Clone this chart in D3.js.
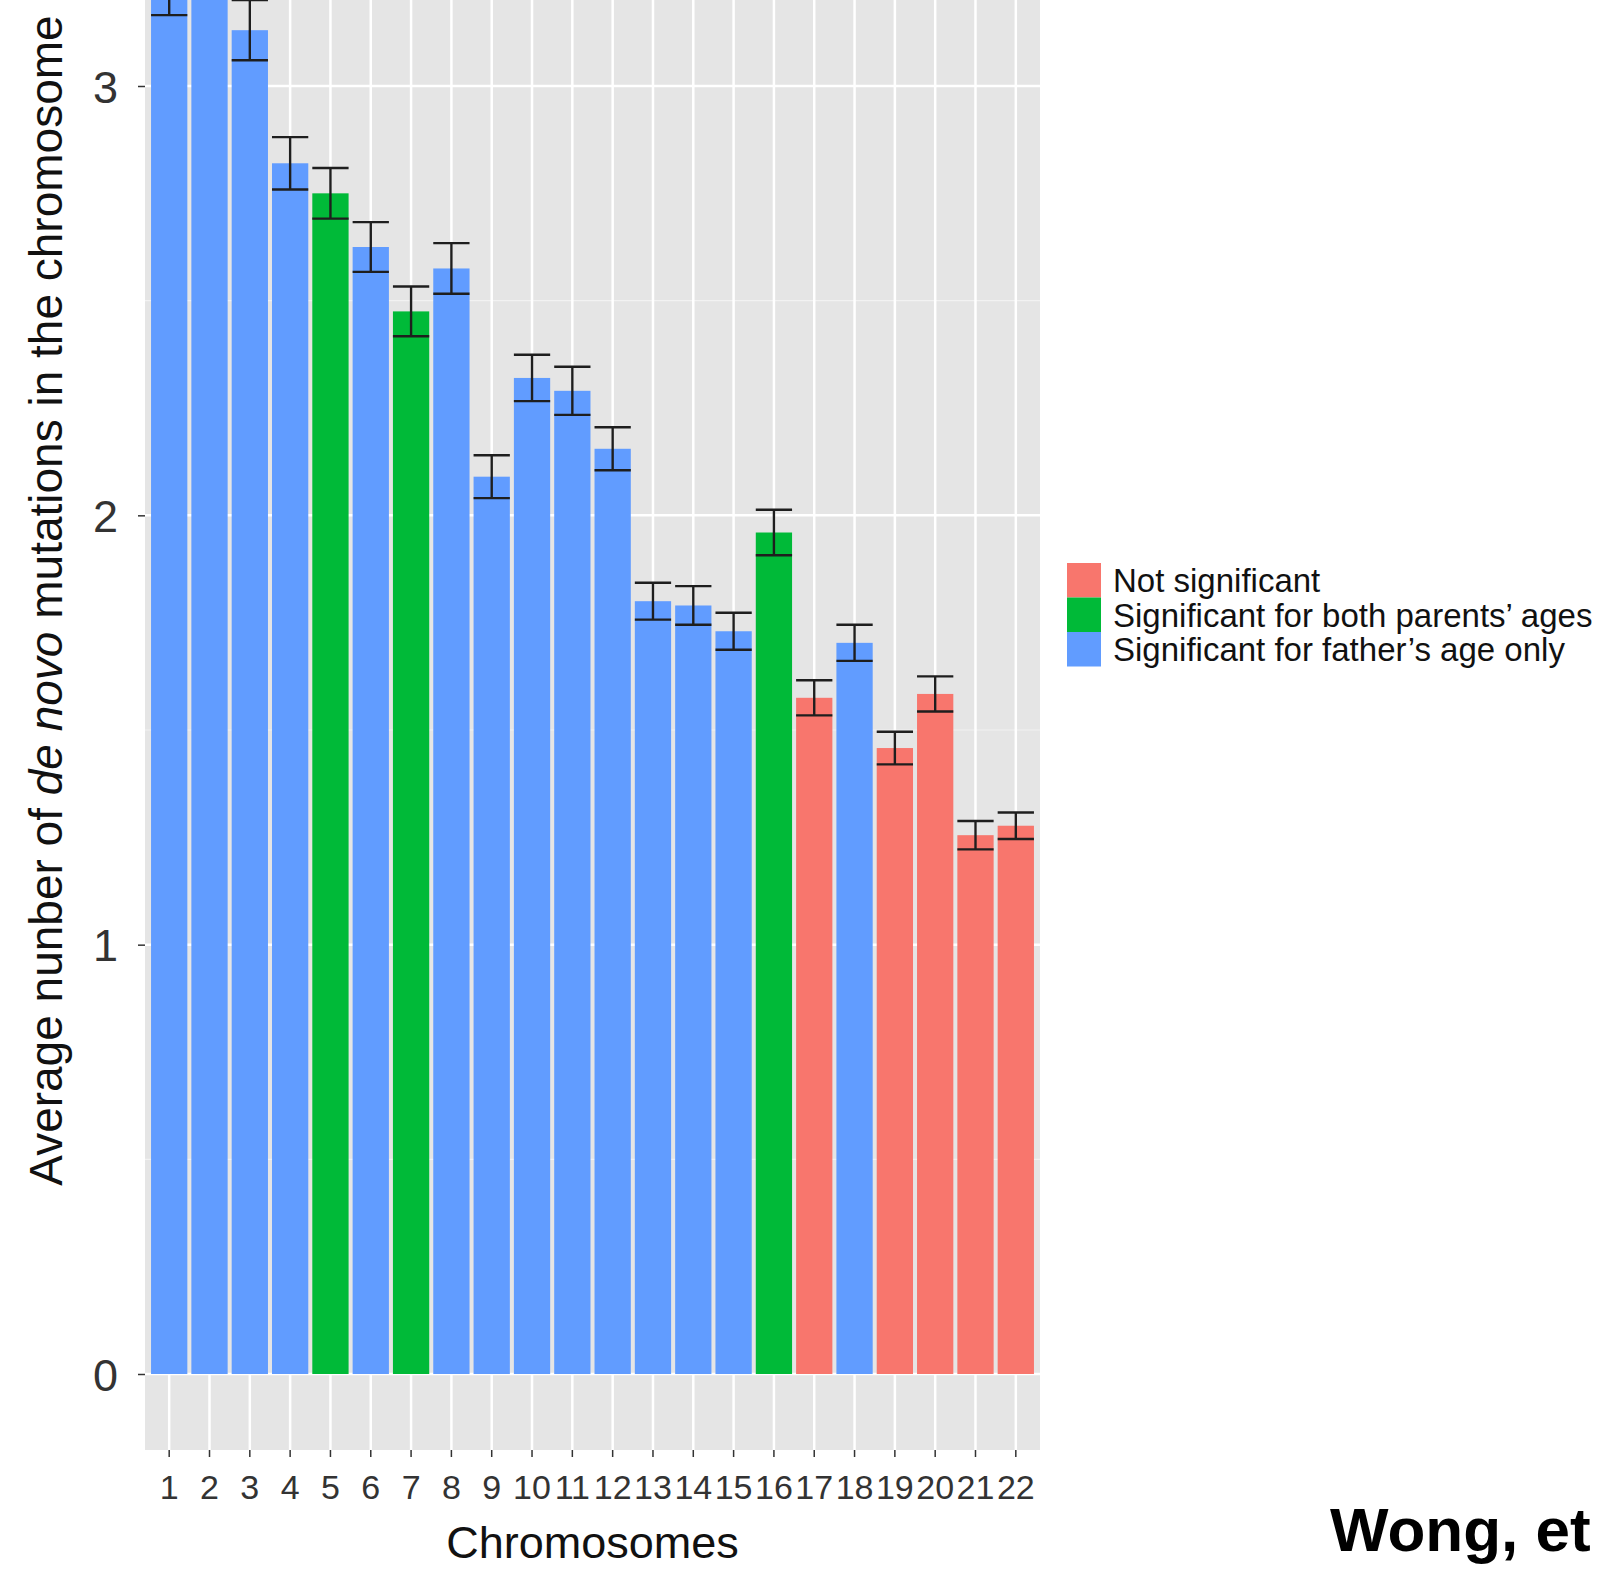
<!DOCTYPE html>
<html>
<head>
  <meta charset="UTF-8">
  <title>De novo mutations per chromosome</title>
  <style>
    body { margin: 0; background: white; }
    svg { display: block; font-family: 'Liberation Sans', Arial, sans-serif; }
  </style>
</head>
<body>
  <svg width="1613" height="1570"></svg>

  <script src="https://d3js.org/d3.v7.min.js"></script>
  <script>
    // data
    let chromosomes = ["1","2","3","4","5","6","7","8","9","10","11","12","13","14","15","16","17","18","19","20","21","22"];
    let means = [3.23, 3.36, 3.13, 2.82, 2.75, 2.625, 2.475, 2.575, 2.09, 2.32, 2.29, 2.155, 1.80, 1.79, 1.73, 1.96, 1.575, 1.703, 1.458, 1.584, 1.255, 1.277];
    let errors = [0.065, 0.07, 0.07, 0.061, 0.059, 0.058, 0.058, 0.059, 0.05, 0.054, 0.056, 0.05, 0.043, 0.045, 0.043, 0.053, 0.041, 0.042, 0.038, 0.041, 0.033, 0.031];
    let groups = ["F","F","F","F","B","F","B","F","F","F","F","F","F","F","F","B","N","F","N","N","N","N"];
    let groupKeys = ["N", "B", "F"];
    let groupLabels = ["Not significant", "Significant for both parents\u2019 ages", "Significant for father\u2019s age only"];
    let groupColors = ["#F8766D", "#00BA38", "#619CFF"];
    let yTicks = [0, 1, 2, 3];
    let yMinor = [0.5, 1.5, 2.5, 3.5];

    let svg = d3.select("svg");

    let x = d3.scaleBand().domain(chromosomes).range([145, 1040]).paddingInner(0.1).paddingOuter(0.15);
    let y = d3.scaleLinear().domain([0, 3]).range([1374, 86]);
    let color = d3.scaleOrdinal().domain(groupKeys).range(groupColors);

    let panelTop = y(3.78), panelBottom = y(-0.177);

    // panel background
    svg.append("rect")
      .attr("x", 145).attr("y", panelTop)
      .attr("width", 1040 - 145).attr("height", panelBottom - panelTop)
      .attr("fill", "#E5E5E5");

    // grid lines
    svg.append("g").selectAll("line").data(yMinor).enter().append("line")
      .attr("x1", 145).attr("x2", 1040)
      .attr("y1", d => y(d)).attr("y2", d => y(d))
      .attr("stroke", "#F2F2F2").attr("stroke-width", 1.2);
    svg.append("g").selectAll("line").data(yTicks).enter().append("line")
      .attr("x1", 145).attr("x2", 1040)
      .attr("y1", d => y(d)).attr("y2", d => y(d))
      .attr("stroke", "white").attr("stroke-width", 2.5);
    svg.append("g").selectAll("line").data(chromosomes).enter().append("line")
      .attr("x1", d => x(d) + x.bandwidth() / 2).attr("x2", d => x(d) + x.bandwidth() / 2)
      .attr("y1", panelTop).attr("y2", panelBottom)
      .attr("stroke", "white").attr("stroke-width", 2.5);

    // bars
    svg.append("g").selectAll("rect").data(chromosomes).enter().append("rect")
      .attr("x", d => x(d))
      .attr("width", x.bandwidth())
      .attr("y", (d, i) => y(means[i]))
      .attr("height", (d, i) => y(0) - y(means[i]))
      .attr("fill", (d, i) => color(groups[i]));

    // error bars
    let eb = svg.append("g").attr("stroke", "#1e1e1e").attr("stroke-width", 2.4)
      .selectAll("g").data(chromosomes).enter().append("g");
    eb.append("line")
      .attr("x1", d => x(d) + x.bandwidth() / 2).attr("x2", d => x(d) + x.bandwidth() / 2)
      .attr("y1", (d, i) => y(means[i] + errors[i])).attr("y2", (d, i) => y(means[i] - errors[i]));
    eb.append("line")
      .attr("x1", d => x(d)).attr("x2", d => x(d) + x.bandwidth())
      .attr("y1", (d, i) => y(means[i] + errors[i])).attr("y2", (d, i) => y(means[i] + errors[i]));
    eb.append("line")
      .attr("x1", d => x(d)).attr("x2", d => x(d) + x.bandwidth())
      .attr("y1", (d, i) => y(means[i] - errors[i])).attr("y2", (d, i) => y(means[i] - errors[i]));

    // y axis
    let yAxis = svg.append("g")
      .attr("transform", "translate(145,0)")
      .call(d3.axisLeft(y).tickValues(yTicks).tickSize(7).tickPadding(20).tickFormat(d3.format("d")));
    yAxis.select(".domain").remove();
    yAxis.selectAll("line").attr("stroke", "#333").attr("stroke-width", 1.5);
    yAxis.selectAll("text").attr("font-size", 45).attr("fill", "#333").attr("dy", "0.36em");

    // x axis
    let xAxis = svg.append("g")
      .attr("transform", "translate(0," + panelBottom + ")")
      .call(d3.axisBottom(x).tickSize(7).tickPadding(18));
    xAxis.select(".domain").remove();
    xAxis.selectAll("line").attr("stroke", "#333").attr("stroke-width", 1.5);
    xAxis.selectAll("text").attr("font-size", 34).attr("fill", "#333");

    // axis titles
    svg.append("text")
      .attr("x", (145 + 1040) / 2).attr("y", 1558)
      .attr("text-anchor", "middle").attr("font-size", 45).attr("fill", "#111")
      .text("Chromosomes");

    let yt = svg.append("text")
      .attr("transform", "translate(62," + ((panelTop + panelBottom) / 2) + ") rotate(-90)")
      .attr("text-anchor", "middle").attr("font-size", 46).attr("fill", "#111");
    yt.append("tspan").text("Average nunber of ");
    yt.append("tspan").attr("font-style", "italic").text("de novo");
    yt.append("tspan").text(" mutations in the chromosome");

    // legend
    let legend = svg.append("g").attr("transform", "translate(1067,563)");
    let rows = legend.selectAll("g").data(groupKeys).enter().append("g")
      .attr("transform", (d, i) => "translate(0," + (i * 34.5) + ")");
    rows.append("rect")
      .attr("width", 34).attr("height", 34.5)
      .attr("fill", d => color(d));
    rows.append("text")
      .attr("x", 46).attr("y", 17.5).attr("dy", "0.36em")
      .attr("font-size", 33).attr("fill", "#111")
      .text((d, i) => groupLabels[i]);

    // caption
    svg.append("text")
      .attr("x", 1330).attr("y", 1551)
      .attr("font-size", 62).attr("font-weight", "bold").attr("fill", "black")
      .text("Wong, et");
  </script>
</body>
</html>
